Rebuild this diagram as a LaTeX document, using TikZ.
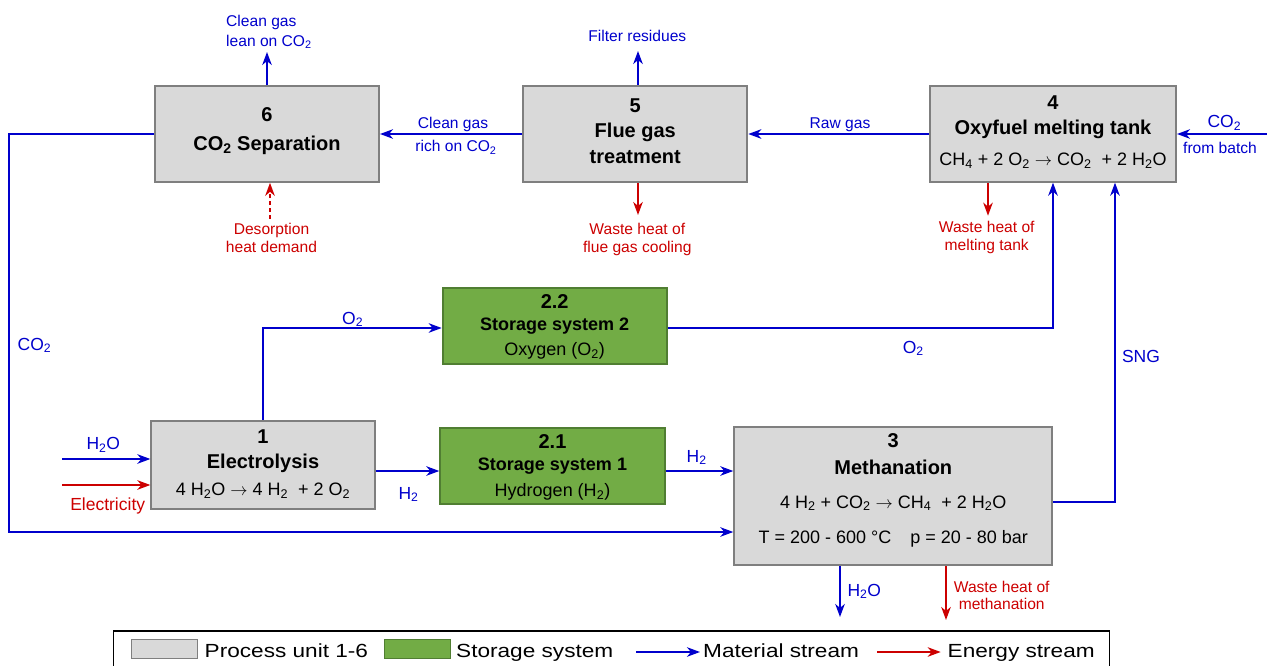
\documentclass[tikz,border=0pt]{standalone}
\usepackage{fontspec}
\setmainfont{Liberation Sans}
\newfontfamily\legendfont[FakeStretch=1.19]{Liberation Sans}
\usetikzlibrary{arrows.meta}
\usetikzlibrary{positioning}

\definecolor{matblue}{HTML}{0000CC}
\definecolor{nrgred}{HTML}{CC0000}
\definecolor{unitgray}{HTML}{D9D9D9}
\definecolor{unitframe}{HTML}{7F7F7F}
\definecolor{storegreen}{HTML}{72AC45}
\definecolor{storeframe}{HTML}{507E32}

\tikzset{
  unit/.style={draw=unitframe, fill=unitgray, line width=2pt, inner sep=0pt,
    font=\fontsize{20}{24}\selectfont\bfseries},
  store/.style={draw=storeframe, fill=storegreen, line width=2pt, inner sep=0pt,
    font=\fontsize{18}{22}\selectfont\bfseries},
  mat/.style={draw=matblue, line width=2pt, -{Stealth[length=13pt, width=9.5pt, inset=4pt]}},
  nrg/.style={mat, draw=nrgred},
  lbl/.style={inner sep=0pt, align=center, font=\fontsize{15.6}{17.5}\selectfont},
  chem/.style={inner sep=0pt, anchor=base, font=\fontsize{17.5}{21}\selectfont},
  legtxt/.style={inner sep=0pt, anchor=base west, font=\legendfont\fontsize{19}{23}\selectfont},
}
\newcommand{\eqfont}{\fontsize{18}{22}\selectfont\mdseries}

\begin{document}
\begin{tikzpicture}
    [x=1pt, y=-1pt]
    \useasboundingbox (0, 0) rectangle (1267, 666);

    % process units
    \node (u6) [unit, minimum width=224pt, minimum height=95.6pt] at (267, 134) {
      \begin{tabular}{@{}c@{}}
        6 \\[5pt]
        CO\textsubscript{2} Separation \\[5.6pt]
      \end{tabular}
    };
    \node (u5) [unit, minimum width=224pt, minimum height=95.6pt] at (635.3, 134) {
      \begin{tabular}{@{}c@{}}
        5 \\[0.6pt]
        Flue gas \\[2pt]
        treatment \\[1pt]
      \end{tabular}
    };
    \node (u4) [unit, minimum width=246pt, minimum height=95.3pt] at (1053, 134) {
      \begin{tabular}{@{}c@{}}
        4 \\[1pt]
        Oxyfuel melting tank \\[6.8pt]
        \eqfont CH\textsubscript{4} + 2 O\textsubscript{2} $\rightarrow$ CO\textsubscript{2}~ + 2 H\textsubscript{2}O \\[2.4pt]
      \end{tabular}
    };
    \node (u1) [unit, minimum width=223.3pt, minimum height=88.7pt] at (263, 465) {
      \begin{tabular}{@{}c@{}}
        1 \\[1pt]
        Electrolysis \\[3.2pt]
        \eqfont 4 H\textsubscript{2}O $\rightarrow$ 4 H\textsubscript{2}~ + 2 O\textsubscript{2} \\[1.2pt]
      \end{tabular}
    };
    \node (u3) [unit, minimum width=318pt, minimum height=138pt] at (893.3, 496) {
      \begin{tabular}{@{}c@{}}
        3 \\[3pt]
        Methanation \\[9.2pt]
        \eqfont 4 H\textsubscript{2} + CO\textsubscript{2} $\rightarrow$ CH\textsubscript{4}~ + 2 H\textsubscript{2}O \\[11pt]
        \eqfont T = 200 - 600 °C\hspace{19pt}p = 20 - 80 bar \\[10.6pt]
      \end{tabular}
    };

    % storage systems
    \node (st2) [store, minimum width=224pt, minimum height=76.3pt] at (554.7, 326) {
      \begin{tabular}{@{}c@{}}
        \rule{0pt}{18.5pt}\fontsize{20}{24}\selectfont 2.2 \\
        Storage system 2 \\[3.7pt]
        \eqfont Oxygen (O\textsubscript{2})
      \end{tabular}
    };
    \node (st1) [store, minimum width=224.4pt, minimum height=76.3pt] at (552.5, 466) {
      \begin{tabular}{@{}c@{}}
        \rule{0pt}{20.1pt}\fontsize{20}{24}\selectfont 2.1 \\
        Storage system 1 \\[4pt]
        \eqfont Hydrogen (H\textsubscript{2})
      \end{tabular}
    };

    % free ends of the streams
    \coordinate (leanend) at (267, 52);
    \coordinate (filtend) at (638, 51);
    \coordinate (whflueend) at (638, 215);
    \coordinate (desostart) at (270, 219);
    \coordinate (whmeltend) at (988, 215.7);
    \coordinate (batch) at (1268, 134);
    \coordinate (h2oinstart) at (62, 459);
    \coordinate (elecstart) at (62, 485);
    \coordinate (h2ooutend) at (840, 617);
    \coordinate (whmethend) at (946, 620);

    % streams along the top
    \draw [mat] (u4.west) -- (u5.east);
    \draw [mat] (u5.west) -- (u6.east);
    \draw [mat] (batch) -- (u4.east);
    \draw [mat] (u6.north) -- (leanend);
    \draw [mat] (u5.north -| filtend) -- (filtend);
    \draw [nrg] (u5.south -| whflueend) -- (whflueend);
    \draw [nrg] (u4.south -| whmeltend) -- (whmeltend);
    \draw [nrg, dash pattern=on 4pt off 3pt] (desostart) -- (u6.south -| desostart);

    % streams below
    \draw [mat] (u1.north) |- ([yshift=-2pt]st2.west);
    \draw [mat] ([yshift=-2pt]st2.east) -| (u4.south);
    \draw [mat] ([yshift=-6pt]u1.east) -- ([yshift=-6pt]u1.east -| st1.west);
    \draw [mat] ([yshift=-5pt]st1.east) -- ([yshift=-5pt]st1.east -| u3.west);
    \draw [mat] ([yshift=-6pt]u3.east) -| ([xshift=62pt]u4.south);
    \draw [mat] (u6.west) -- ++(-145, 0) |- ([yshift=-36pt]u3.west);
    \draw [mat] (h2oinstart) -- (h2oinstart -| u1.west);
    \draw [nrg] (elecstart) -- (elecstart -| u1.west);
    \draw [mat] (u3.south -| h2ooutend) -- (h2ooutend);
    \draw [nrg] (u3.south -| whmethend) -- (whmethend);

    % stream labels
    \node (lean) [lbl, align=left, anchor=west, text=matblue] at (226, 31.8) {Clean gas \\[2.5pt] lean on CO\textsubscript{2}};
    \node (filt) [lbl, anchor=base, text=matblue] at (637.3, 41.6) {Filter residues};
    \node (cleangas) [lbl, anchor=base, text=matblue] at (453, 128.6) {Clean gas};
    \node (rich) [lbl, anchor=base, text=matblue] at (456, 151.6) {rich on CO\textsubscript{2}};
    \node (raw) [lbl, anchor=base, text=matblue] at (840, 128.6) {Raw gas};
    \node (batchco2) [chem, text=matblue] at (1224.3, 128) {CO\textsubscript{2}};
    \node (batchtxt) [lbl, anchor=base, text=matblue] at (1220, 153.9) {from batch};
    \node (deso) [lbl, text=nrgred] at (271.5, 238) {Desorption \\ heat demand};
    \node (whflue) [lbl, text=nrgred] at (637.3, 239.3) {Waste heat of \\ flue gas cooling};
    \node (whmelt) [lbl, text=nrgred] at (986.7, 237.6) {Waste heat of \\ melting tank};
    \node (whmeth) [lbl, text=nrgred] at (1001.7, 595.4) {Waste heat of \\ methanation};
    \node (o2a) [chem, text=matblue] at (352.7, 324.3) {O\textsubscript{2}};
    \node (o2b) [chem, text=matblue] at (913.3, 353) {O\textsubscript{2}};
    \node (sng) [chem, text=matblue] at (1141, 362) {SNG};
    \node (co2loop) [chem, text=matblue] at (34.4, 350.1) {CO\textsubscript{2}};
    \node (h2a) [chem, text=matblue] at (408.5, 499) {H\textsubscript{2}};
    \node (h2b) [chem, text=matblue] at (696.7, 462.3) {H\textsubscript{2}};
    \node (h2oin) [chem, text=matblue] at (103.3, 449.6) {H\textsubscript{2}O};
    \node (elec) [chem, text=nrgred] at (107.7, 510.6) {Electricity};
    \node (h2oout) [chem, text=matblue] at (864.3, 596.3) {H\textsubscript{2}O};

    % legend
    \node (legend) [draw=black, line width=1.4pt, minimum width=996pt, minimum height=40pt, inner sep=0pt] at (611.4, 651) {};
    \node (legunit) [unit, line width=1pt, minimum width=65.7pt, minimum height=19.3pt] at (164.4, 649.2) {};
    \node (legstore) [store, line width=1pt, minimum width=66pt, minimum height=19.3pt] at (417.5, 649.2) {};
    \coordinate (legmat) at (636, 652);
    \coordinate (legmatend) at (700, 652);
    \coordinate (legnrg) at (877.3, 652);
    \coordinate (legnrgend) at (940.7, 652);
    \draw [mat] (legmat) -- (legmatend);
    \draw [nrg] (legnrg) -- (legnrgend);
    \node (legunittxt) [legtxt] at (204.5, 657.3) {Process unit 1-6};
    \node (legstoretxt) [legtxt] at (456, 657.3) {Storage system};
    \node (legmattxt) [legtxt] at (703, 657.3) {Material stream};
    \node (legnrgtxt) [legtxt] at (947.5, 657.3) {Energy stream};
\end{tikzpicture}
\end{document}
